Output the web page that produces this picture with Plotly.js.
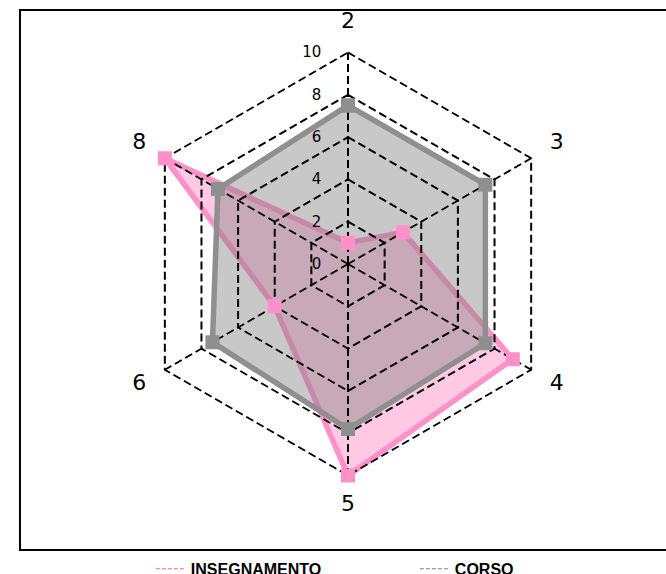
<!DOCTYPE html>
<html>
<head>
<meta charset="utf-8">
<script src="https://cdn.plot.ly/plotly-3.0.1.min.js"></script>
<style>html,body{margin:0;padding:0;background:#fff;}#chart{width:666px;height:574px;}</style>
</head>
<body>
<div id="chart"></div>
<script>
// Data
var categories = ['2', '3', '4', '5', '6', '8'];
var insegnamento = [1, 3, 9, 10, 4, 10];
var corso = [7.5, 7.5, 7.5, 7.8, 7.4, 7.1];
var radialTicks = [0, 2, 4, 6, 8, 10];
var seriesNames = ['INSEGNAMENTO', 'CORSO'];

function closed(a) { return a.concat([a[0]]); }

var pinkLine = 'rgb(255,145,200)';
var pinkFill = 'rgba(255,105,180,0.37)';
var grayLine = 'rgb(143,143,143)';
var grayFill = 'rgba(128,128,128,0.43)';
var gridDash = '8px,4px';

// grid (drawn above the fills, below the lines, as in the reference)
var rMax = radialTicks[radialTicks.length - 1];
var rLabel = rMax * 1.14;       // where the category labels sit
var rOuter = rMax * 1.15;       // radial range end (hidden, leaves room for labels)
var ringR = [], ringT = [];
radialTicks.slice(1).forEach(function (t) {
  categories.concat([categories[0]]).forEach(function (c) { ringR.push(t); ringT.push(c); });
  ringR.push(null); ringT.push(null);
});
var spokeR = [], spokeT = [];
categories.forEach(function (c) { spokeR.push(0, rMax, null); spokeT.push(c, c, null); });
var labelR = categories.map(function () { return rLabel; });

var traces = [
  {
    type: 'scatterpolar', r: closed(insegnamento), theta: closed(categories),
    mode: 'lines', fill: 'toself', fillcolor: pinkFill,
    line: {color: pinkLine, width: 5.5}, showlegend: false, hoverinfo: 'skip'
  },
  {
    type: 'scatterpolar', r: closed(corso), theta: closed(categories),
    mode: 'lines', fill: 'toself', fillcolor: grayFill,
    line: {color: 'rgba(0,0,0,0)', width: 0}, showlegend: false, hoverinfo: 'skip'
  },
  {
    type: 'scatterpolar', r: ringR, theta: ringT, mode: 'lines', connectgaps: false,
    line: {color: '#000', width: 2, dash: gridDash}, showlegend: false, hoverinfo: 'skip'
  },
  {
    type: 'scatterpolar', r: spokeR, theta: spokeT, mode: 'lines', connectgaps: false,
    line: {color: '#000', width: 2, dash: gridDash}, showlegend: false, hoverinfo: 'skip'
  },
  {
    type: 'scatterpolar', r: closed(corso), theta: closed(categories),
    mode: 'lines+markers',
    line: {color: grayLine, width: 5.5},
    marker: {symbol: 'square', size: 11, color: grayLine, line: {color: grayLine, width: 3}},
    showlegend: false, hoverinfo: 'skip'
  },
  {
    type: 'scatterpolar', r: insegnamento, theta: categories,
    mode: 'markers',
    marker: {symbol: 'square', size: 11, color: pinkLine, line: {color: pinkLine, width: 3}},
    showlegend: false, hoverinfo: 'skip'
  },
  {
    type: 'scatterpolar', r: labelR, theta: categories, mode: 'text', text: categories,
    textposition: 'middle center', cliponaxis: false,
    textfont: {family: 'DejaVu Sans', size: 22, color: '#000'},
    showlegend: false, hoverinfo: 'skip'
  },
  {
    type: 'scatterpolar', r: [null], theta: [null], mode: 'lines', name: seriesNames[0],
    line: {color: 'rgb(255,100,100)', width: 1.2, dash: '4px,2px'}, showlegend: true
  },
  {
    type: 'scatterpolar', r: [null], theta: [null], mode: 'lines', name: seriesNames[1],
    line: {color: 'rgb(128,128,128)', width: 1.2, dash: '4px,2px'}, showlegend: true
  }
];

// polar box sized so that r = rMax lands on a 211.5 px radius around (348, 265)
var W = 666, H = 574, cx = 348, cy = 264, R = 211.5 * rOuter / rMax;
var layout = {
  width: W, height: H,
  margin: {l: 0, r: 0, t: 0, b: 0, autoexpand: false},
  paper_bgcolor: '#fff',
  font: {family: 'DejaVu Sans', color: '#000'},
  polar: {
    domain: {x: [(cx - R) / W, (cx + R) / W], y: [(H - cy - R) / H, (H - cy + R) / H]},
    gridshape: 'linear',
    bgcolor: 'rgba(0,0,0,0)',
    radialaxis: {
      range: [0, rOuter], tickvals: radialTicks, ticktext: radialTicks.map(String),
      angle: 90, side: 'counterclockwise', tickangle: 90,
      showline: false, showgrid: false,
      ticks: 'outside', ticklen: 21, tickcolor: 'rgba(0,0,0,0)',
      tickfont: {family: 'DejaVu Sans', size: 15, color: '#000'}
    },
    angularaxis: {
      type: 'category', categoryarray: categories, categoryorder: 'array',
      direction: 'clockwise', rotation: 90,
      showline: false, showgrid: false, showticklabels: false, ticks: ''
    }
  },
  legend: {
    orientation: 'h', x: 0.2265, xanchor: 'left', y: 0.009, yanchor: 'middle',
    entrywidth: 219, entrywidthmode: 'pixels',
    font: {family: 'Liberation Sans', size: 16, color: '#000', weight: 'bold'},
    bgcolor: 'rgba(0,0,0,0)'
  },
  shapes: [{
    type: 'rect', xref: 'paper', yref: 'paper',
    x0: 0.03, x1: 1.02, y0: 0.0418, y1: 0.9826,
    line: {color: '#000', width: 2}
  }]
};

Plotly.newPlot('chart', traces, layout, {staticPlot: true});
</script>
</body>
</html>
